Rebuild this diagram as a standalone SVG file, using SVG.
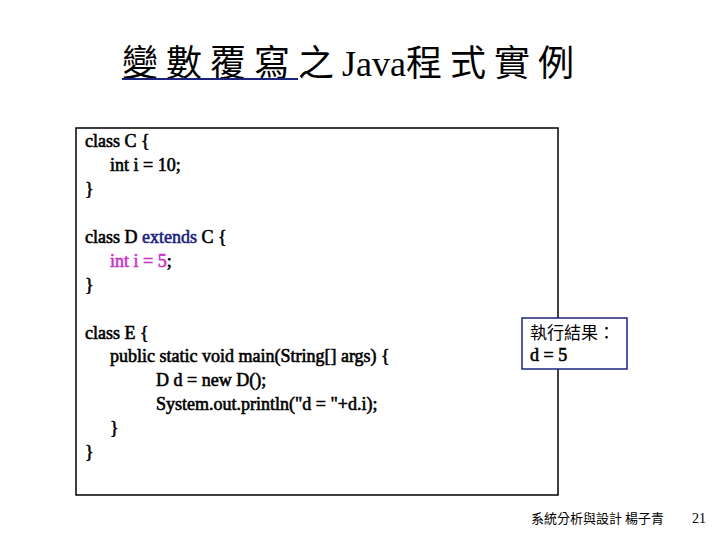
<svg xmlns="http://www.w3.org/2000/svg" width="720" height="540" viewBox="0 0 720 540">
<style>
.c{font-family:"Liberation Serif","DejaVu Serif",serif;font-size:18px;fill:#000;stroke:#000;stroke-width:0.6}
.b{fill:#1a237e;stroke:#1a237e}.m{fill:#cc33cc;stroke:#cc33cc}
.t{font-family:"Liberation Serif","Noto Sans CJK TC",serif;font-size:36px;fill:#000}
.s{letter-spacing:8px}
</style>
<rect width="720" height="540" fill="#fff"/>
<g id="title">
<text class="t" x="122" y="76"><tspan class="s">變數覆寫之</tspan>Java<tspan class="s">程式實例</tspan></text>
<line x1="122" y1="79" x2="298" y2="79" stroke="#1a237e" stroke-width="2"/>
</g>
<g id="code">
<rect x="76" y="128" width="482" height="367" fill="#fff" stroke="#000" stroke-width="1.5"/>
<text class="c" x="85" y="147">class C {</text>
<text class="c" x="110" y="171">int i = 10;</text>
<text class="c" x="85" y="195">}</text>
<text class="c" x="85" y="243">class D <tspan class="b">extends</tspan> C {</text>
<text class="c m" x="110" y="267">int i = 5<tspan fill="#000" stroke="#000">;</tspan></text>
<text class="c" x="85" y="291">}</text>
<text class="c" x="85" y="339">class E {</text>
<text class="c" x="110" y="362">public static void main(String[] args) {</text>
<text class="c" x="156" y="386">D d = new D();</text>
<text class="c" x="156" y="410">System.out.println("d = "+d.i);</text>
<text class="c" x="110" y="434">}</text>
<text class="c" x="85" y="458">}</text>
</g>
<g id="result">
<rect x="522" y="318" width="105" height="51" fill="#fff" stroke="#1a237e" stroke-width="1.5"/>
<text x="530" y="339" style="font-family:'Noto Sans CJK TC',sans-serif;font-size:17px">執行結果：</text>
<text class="c" x="530" y="361">d = 5</text>
</g>
<g id="footer">
<text x="531" y="523" style="font-family:'Noto Sans CJK TC',sans-serif;font-size:13px">系統分析與設計 楊子青</text>
<text x="692" y="523" style="font-family:'Liberation Serif',serif;font-size:14px">21</text>
</g>
</svg>
